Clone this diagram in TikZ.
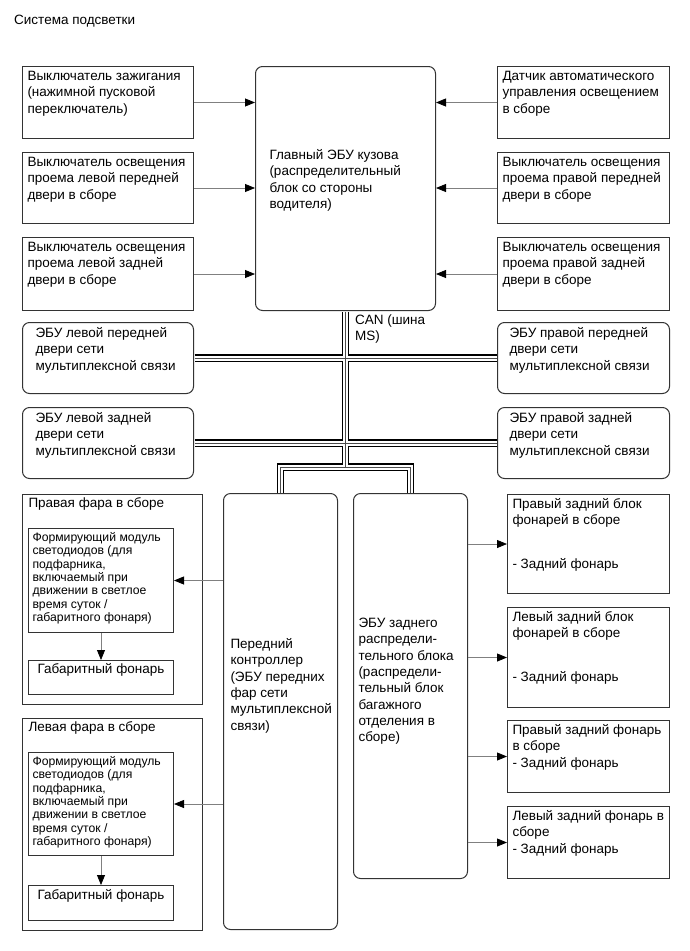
\documentclass[tikz,border=0pt]{standalone}
\usepackage{fontspec}
\setmainfont{Liberation Sans}
\usetikzlibrary{arrows.meta}
% texte aligné en haut : largeur, hauteur, première ligne, contenu
\newcommand{\bloc}[4]{\parbox[t][#2pt][t]{#1pt}{\selectfont\raggedright\hyphenpenalty=10000\rule{0pt}{#3pt}#4}}
\newcommand{\petit}{\fontsize{12.2}{13.3}\selectfont}

\begin{document}
\begin{tikzpicture}[x=1pt, y=-1pt, font=\fontsize{13.5}{16.3}\selectfont,
  boite/.style={draw=black!80, line width=1pt, inner ysep=0pt, anchor=north west},
  arrondi/.style={boite, rounded corners=7pt},
  fleche/.style={draw=black!50, line width=0.8pt, -{Triangle[length=10pt, width=8pt, color=black]}}]
  \useasboundingbox (0,0) rectangle (689,951);
  \node[anchor=base west, inner sep=0pt] (titre) at (14,24) {Система подсветки};
  % Commutateurs à gauche
  \node[boite, inner xsep=5pt] (contact) at (22,66) {\bloc{161}{72}{14}{Выключатель зажигания\\(нажимной пусковой\\переключатель)}};
  \node[boite, inner xsep=5pt] (porteAVG) at (22,152) {\bloc{161}{71}{14}{Выключатель освещения\\проема левой передней\\двери в сборе}};
  \node[boite, inner xsep=5pt] (porteARG) at (22,237) {\bloc{161}{73}{14}{Выключатель освещения\\проема левой задней\\двери в сборе}};
  % Commutateurs à droite
  \node[boite, inner xsep=5pt] (capteur) at (497,66) {\bloc{162}{72}{14}{Датчик автоматического\\управления освещением\\в сборе}};
  \node[boite, inner xsep=5pt] (porteAVD) at (497,152) {\bloc{162}{71}{14}{Выключатель освещения\\проема правой передней\\двери в сборе}};
  \node[boite, inner xsep=5pt] (porteARD) at (497,237) {\bloc{162}{73}{14}{Выключатель освещения\\проема правой задней\\двери в сборе}};
  % ECU carrosserie
  \node[arrondi, inner xsep=14pt] (carros) at (255,66) {\bloc{152}{244}{93}{Главный ЭБУ кузова\\(распределительный\\блок со стороны\\водителя)}};
  \foreach \n in {contact, porteAVG, porteARG}
    \draw[fleche] (\n.east) -- (\n.east -| carros.west);
  \foreach \n in {capteur, porteAVD, porteARD}
    \draw[fleche] (\n.west) -- (\n.west -| carros.east);
  % ECU des portes
  \node[arrondi, inner xsep=13pt] (ecuAVG) at (22,322) {\bloc{145}{71}{15}{ЭБУ левой передней\\двери сети\\мультиплексной связи}};
  \node[arrondi, inner xsep=13pt] (ecuARG) at (22,407) {\bloc{145}{71}{15}{ЭБУ левой задней\\двери сети\\мультиплексной связи}};
  \node[arrondi, inner xsep=12pt] (ecuAVD) at (497,322) {\bloc{148}{71}{15}{ЭБУ правой передней\\двери сети\\мультиплексной связи}};
  \node[arrondi, inner xsep=12pt] (ecuARD) at (497,407) {\bloc{148}{71}{15}{ЭБУ правой задней\\двери сети\\мультиплексной связи}};
  % Contrôleurs avant et arrière
  \node[arrondi, inner xsep=7pt] (avant) at (223,493) {\bloc{100}{436}{155}{Передний\\контроллер\\(ЭБУ передних\\фар сети\\мультиплексной\\связи)}};
  \node[arrondi, inner xsep=5pt] (arriere) at (353,493) {\bloc{104}{385}{134}{ЭБУ заднего\\распредели-\\тельного блока\\(распредели-\\тельный блок\\багажного\\отделения в\\сборе)}};
  % Bus CAN (trois passes)
  \coordinate (fourche) at (carros.south |- 0,467);
  \foreach \w/\c in {7.5/black, 5/white, 0.8/black!70} {
    \draw[line width=\w pt, \c, shorten <=0.5pt] (carros.south) -- (fourche);
    \draw[line width=\w pt, \c, shorten <=0.5pt, shorten >=0.5pt] (ecuAVG.east) -- (ecuAVD.west);
    \draw[line width=\w pt, \c, shorten <=0.5pt, shorten >=0.5pt] (ecuARG.east) -- (ecuARD.west);
    \draw[line width=\w pt, \c, shorten <=0.5pt, shorten >=0.5pt] (avant.north) -- (avant.north |- fourche) -- (arriere.north |- fourche) -- (arriere.north);
  }
  \node[anchor=north west, inner sep=0pt] (can) at (355,310) {\bloc{70}{30}{14}{CAN (шина\\MS)}};
  % Feux arrière
  \node[boite, inner xsep=5pt] (feuARD1) at (507,494) {\bloc{152}{99}{14}{Правый задний блок\\фонарей в сборе\\[27pt]- Задний фонарь}};
  \node[boite, inner xsep=5pt] (feuARG1) at (507,607) {\bloc{152}{100}{14}{Левый задний блок\\фонарей в сборе\\[27pt]- Задний фонарь}};
  \node[boite, inner xsep=5pt] (feuARD2) at (507,720) {\bloc{152}{72}{14}{Правый задний фонарь\\в сборе\\- Задний фонарь}};
  \node[boite, inner xsep=5pt] (feuARG2) at (507,806) {\bloc{152}{72}{14}{Левый задний фонарь в\\сборе\\- Задний фонарь}};
  \foreach \n in {feuARD1, feuARG1, feuARD2, feuARG2}
    \draw[fleche] (arriere.east |- \n.west) -- (\n.west);
  % Phares
  \node[boite, inner xsep=6pt] (pharD) at (22,494) {\bloc{168}{210}{13}{Правая фара в сборе}};
  \node[boite, inner xsep=4pt, font=\petit] (modD) at (28,528) {\bloc{137}{104}{13}{Формирующий модуль\\светодиодов (для\\подфарника,\\включаемый при\\движении в светлое\\время суток /\\габаритного фонаря)}};
  \node[boite, inner xsep=4pt] (gabD) at (28,660) {\bloc{137}{34}{13}{\centering Габаритный фонарь}};
  \node[boite, inner xsep=6pt] (pharG) at (22,718) {\bloc{168}{212}{13}{Левая фара в сборе}};
  \node[boite, inner xsep=4pt, font=\petit] (modG) at (28,752) {\bloc{137}{103}{13}{Формирующий модуль\\светодиодов (для\\подфарника,\\включаемый при\\движении в светлое\\время суток /\\габаритного фонаря)}};
  \node[boite, inner xsep=4pt] (gabG) at (28,885) {\bloc{137}{35}{14}{\centering Габаритный фонарь}};
  \foreach \n in {modD, modG}
    \draw[fleche] (avant.west |- \n.east) -- (\n.east);
  \draw[fleche] (modD.south) -- (gabD.north);
  \draw[fleche] (modG.south) -- (gabG.north);
\end{tikzpicture}
\end{document}
